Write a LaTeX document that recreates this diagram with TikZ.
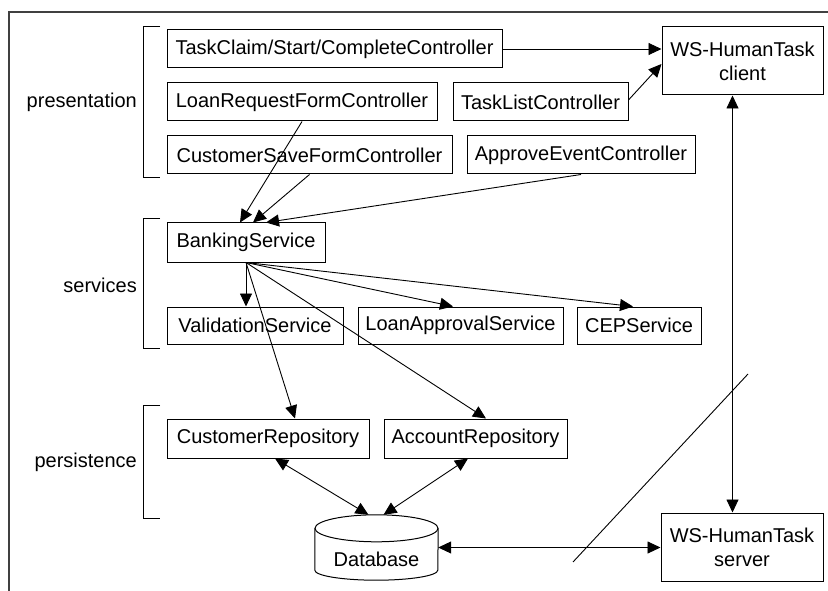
\documentclass[tikz,border=0pt]{standalone}
\usepackage{fontspec}
\setmainfont{Liberation Sans}
\usetikzlibrary{arrows.meta,calc}
\begin{document}
\begin{tikzpicture}[x=1pt,y=-1pt,
  txt/.style={font=\fontsize{20}{24}\selectfont},
  box/.style={txt,draw,line width=1pt,inner sep=0pt,minimum height=38pt},
  lbl/.style={txt,inner sep=0pt,anchor=east},
  arr/.style={line width=0.9pt,-{Triangle[length=13pt,width=12pt]}},
  darr/.style={line width=0.9pt,{Triangle[length=13pt,width=12pt]}-{Triangle[length=13pt,width=12pt]}},
  brk/.style={line width=1pt}]
\useasboundingbox (0,0) rectangle (828,591);
% frame
\draw[line width=2pt,black!75] (9,591) -- (9,12) -- (828,12);
% layer brackets
\draw[brk] (160,27) -- (143,27) -- (143,178) -- (160,178);
\draw[brk] (160,219) -- (143,219) -- (143,348) -- (160,348);
\draw[brk] (160,405) -- (143,405) -- (143,518) -- (160,518);
\node[lbl] (lpres) at (137,102) {presentation};
\node[lbl] (lserv) at (137,285) {services};
\node[lbl] (lpers) at (137,462) {persistence};
% presentation
\node[box,minimum width=335pt] (tc) at (334.5,49) {TaskClaim/Start/CompleteController};
\node[box,minimum width=161pt,minimum height=68pt,align=center] (client) at (742.5,61) {WS-HumanTask\\client};
\node[box,minimum width=270pt] (lr) at (302,102) {LoanRequestFormController};
\node[box,minimum width=175pt] (tl) at (540.5,102) {TaskListController};
\node[box,minimum width=285pt] (cs) at (309.5,155) {CustomerSaveFormController};
\node[box,minimum width=228pt] (ae) at (581,155) {ApproveEventController};
% services
\node[box,minimum width=158pt,minimum height=39pt] (bs) at (246,242.5) {BankingService};
\node[box,minimum width=176pt,minimum height=37pt] (vs) at (255,325.5) {ValidationService};
\node[box,minimum width=205pt,minimum height=37pt] (la) at (460.5,325.5) {LoanApprovalService};
\node[box,minimum width=124pt,minimum height=37pt] (cep) at (639,325.5) {CEPService};
% persistence
\node[box,minimum width=202pt,minimum height=39pt] (cr) at (268,438.5) {CustomerRepository};
\node[box,minimum width=183pt,minimum height=39pt] (ar) at (475.5,438.5) {AccountRepository};
% database
\node[txt,inner sep=0pt,minimum width=123pt,minimum height=65pt,label={[txt,yshift=-12pt]center:Database}] (db) at (376.5,547.5) {};
\draw[line width=1pt] ($(db.north west)+(0,13.5)$) -- ($(db.south west)+(0,-10)$)
  arc[start angle=180,end angle=360,x radius=61.5pt,y radius=10pt] -- ($(db.north east)+(0,13.5)$);
\draw[line width=1pt] ($(db.north)+(0,13.5)$) ellipse[x radius=61.5pt,y radius=13.5pt];
\node[box,minimum width=162pt,minimum height=68pt,align=center] (server) at (742,547) {WS-HumanTask\\server};
% connectors
\draw[arr] (tc.east) -- (tc.east -| client.west);
\draw[arr] ($(tl.east)+(0,-2)$) -- ($(client.west)+(0,3)$);
\draw[arr] (lr.south) -- ($(bs.north)+(-6,0)$);
\draw[arr] (cs.south) -- ($(bs.north)+(7,0)$);
\draw[arr] (ae.south) -- ($(bs.north)+(20,0)$);
\draw[arr] (bs.south) -- (bs.south |- vs.north);
\draw[arr] (bs.south) -- ($(la.north)+(-7.5,0)$);
\draw[arr] (bs.south) -- ($(cep.north)+(-6,0)$);
\draw[arr] (bs.south) -- ($(cr.north)+(27,0)$);
\draw[arr] (bs.south) -- ($(ar.north)+(10.5,0)$);
\draw[darr] ($(cr.south)+(7,0)$) -- ($(db.north)+(-8,0)$);
\draw[darr] ($(ar.south)+(-7.5,0)$) -- ($(db.north)+(7,0)$);
\draw[darr] (db.east) -- (db.east -| server.west);
\coordinate (cl1) at ($(client.south)+(-10,0)$);
\draw[darr] (cl1) -- (cl1 |- server.north);
% free diagonal stroke
\coordinate (d1) at (748,374);
\coordinate (d2) at (573,562);
\draw[line width=0.9pt] (d1) -- (d2);
\end{tikzpicture}
\end{document}
